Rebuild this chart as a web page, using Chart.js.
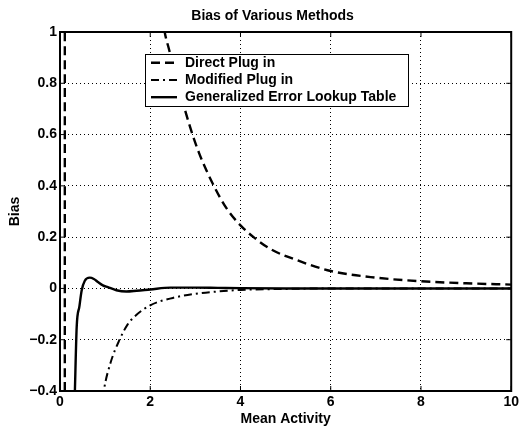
<!DOCTYPE html>
<html>
<head>
<meta charset="utf-8">
<script src="https://cdn.jsdelivr.net/npm/chart.js@4"></script>
<style>
  html, body { margin: 0; padding: 0; background: #fff; }
  #wrap { width: 522px; height: 431px; }
</style>
</head>
<body>
<div id="wrap"><canvas id="biasChart" width="522" height="431"></canvas></div>
<script>
const chartTitle = "Bias of Various Methods";
const xTitle = "Mean Activity";
const yTitle = "Bias";
const seriesNames = ["Direct Plug in", "Modified Plug in", "Generalized Error Lookup Table"];

const xTicks = [0, 2, 4, 6, 8, 10];
const yTicks = [-0.4, -0.2, 0, 0.2, 0.4, 0.6, 0.8, 1];

// Direct Plug in (blows up near 0, then decays)
const directX = [0.02, 0.105, 0.115, 0.5, 1.0, 1.5, 2.0, 2.32, 2.42, 2.6, 2.73, 2.9, 3.1, 3.41, 3.7, 4.0, 4.29, 4.68, 5.27, 6.0, 7.0, 8.0, 9.0, 10.0];
const directY = [-20, -3, 30, 20, 6, 2.6, 1.4, 1.0, 0.93, 0.8, 0.72, 0.62, 0.52, 0.4, 0.31, 0.246, 0.2, 0.152, 0.109, 0.068, 0.042, 0.028, 0.02, 0.015];

// Modified Plug in
const modifiedX = [0.9, 0.97, 1.12, 1.32, 1.5, 1.65, 2.0, 2.5, 3.0, 3.5, 4.0, 5.0, 6.0, 8.0, 10.0];
const modifiedY = [-0.5, -0.4, -0.29, -0.2, -0.14, -0.11, -0.066, -0.037, -0.021, -0.012, -0.006, -0.002, 0, 0, 0];

// Generalized Error Lookup Table
const lookupX = [0.3, 0.33, 0.37, 0.43, 0.48, 0.55, 0.66, 0.75, 0.84, 0.95, 1.06, 1.25, 1.47, 1.7, 2.0, 2.45, 3.0, 3.5, 4.0, 5.0, 6.0, 8.0, 10.0];
const lookupY = [-0.6, -0.4, -0.15, -0.07, -0.008, 0.03, 0.042, 0.037, 0.025, 0.012, 0.005, -0.007, -0.012, -0.009, -0.004, 0.003, 0.003, 0.002, 0.001, 0, 0, 0, 0];

const FONT = '"Liberation Sans", Arial, Helvetica, sans-serif';

const toPoints = (xs, ys) => xs.map((x, i) => ({ x: x, y: ys[i] }));

const matlabFrame = {
  id: "matlabFrame",
  afterDraw(chart) {
    const { ctx, chartArea: a, scales } = chart;
    const xs = scales.x;
    const ys = scales.y;
    ctx.save();
    ctx.strokeStyle = "#000";
    ctx.fillStyle = "#000";
    ctx.setLineDash([]);

    // inward tick marks on all four sides
    ctx.lineWidth = 1;
    ctx.beginPath();
    xTicks.forEach((v) => {
      const px = xs.getPixelForValue(v);
      ctx.moveTo(px, a.top);
      ctx.lineTo(px, a.top + 5);
      ctx.moveTo(px, a.bottom);
      ctx.lineTo(px, a.bottom - 5);
    });
    yTicks.forEach((v) => {
      const py = ys.getPixelForValue(v);
      ctx.moveTo(a.left, py);
      ctx.lineTo(a.left + 5, py);
      ctx.moveTo(a.right, py);
      ctx.lineTo(a.right - 5, py);
    });
    ctx.stroke();

    // axes box
    ctx.lineWidth = 2;
    ctx.strokeRect(a.left, a.top, a.right - a.left, a.bottom - a.top);

    // title
    ctx.font = "bold 14px " + FONT;
    ctx.textAlign = "center";
    ctx.textBaseline = "middle";
    ctx.fillText(chartTitle, (a.left + a.right) / 2 - 13, 16);

    // legend box inside the axes
    const box = { left: 145, top: 54, width: 263, height: 52 };
    ctx.fillStyle = "#fff";
    ctx.fillRect(box.left, box.top, box.width, box.height);
    ctx.lineWidth = 1;
    ctx.strokeRect(box.left + 0.5, box.top + 0.5, box.width, box.height);

    ctx.fillStyle = "#000";
    ctx.textAlign = "left";
    chart.data.datasets.forEach((ds, i) => {
      const rowY = box.top + 8.8 + i * 17.2;
      ctx.lineWidth = ds.borderWidth;
      ctx.setLineDash(ds.borderDash || []);
      ctx.beginPath();
      ctx.moveTo(box.left + 6, rowY);
      ctx.lineTo(box.left + 32, rowY);
      ctx.stroke();
      ctx.setLineDash([]);
      ctx.fillText(ds.label, box.left + 40, rowY);
    });
    ctx.restore();
  },
};

const ctx = document.getElementById("biasChart");
new Chart(ctx, {
  type: "line",
  data: {
    datasets: [
      {
        label: seriesNames[0],
        data: toPoints(directX, directY),
        borderColor: "#000",
        borderWidth: 2.4,
        borderDash: [9, 5],
        cubicInterpolationMode: "monotone",
        pointRadius: 0,
        fill: false,
        clip: 0,
      },
      {
        label: seriesNames[1],
        data: toPoints(modifiedX, modifiedY),
        borderColor: "#000",
        borderWidth: 2,
        borderDash: [8, 4, 2, 4],
        cubicInterpolationMode: "monotone",
        pointRadius: 0,
        fill: false,
        clip: 0,
      },
      {
        label: seriesNames[2],
        data: toPoints(lookupX, lookupY),
        borderColor: "#000",
        borderWidth: 2.4,
        cubicInterpolationMode: "monotone",
        pointRadius: 0,
        fill: false,
        clip: 0,
      },
    ],
  },
  options: {
    responsive: false,
    animation: false,
    devicePixelRatio: 1,
    layout: { padding: { top: 32, right: 7, left: 0, bottom: 0 } },
    plugins: {
      legend: { display: false },
      title: { display: false },
      tooltip: { enabled: false },
    },
    scales: {
      x: {
        type: "linear",
        min: 0,
        max: 10,
        afterFit: (axis) => {
          axis.height = 40;
        },
        afterBuildTicks: (axis) => {
          axis.ticks = xTicks.map((v) => ({ value: v }));
        },
        ticks: {
          color: "#000",
          padding: 3,
          maxRotation: 0,
          font: { family: FONT, size: 14, weight: "bold" },
        },
        grid: { color: "#000", lineWidth: 1, drawTicks: false },
        border: { display: false, dash: [1, 3] },
        title: {
          display: true,
          text: xTitle,
          color: "#000",
          padding: { top: 0, bottom: 3 },
          font: { family: FONT, size: 14, weight: "bold" },
        },
      },
      y: {
        type: "linear",
        min: -0.4,
        max: 1,
        afterFit: (axis) => {
          axis.width = 60;
        },
        afterBuildTicks: (axis) => {
          axis.ticks = yTicks.map((v) => ({ value: v }));
        },
        ticks: {
          color: "#000",
          padding: 3,
          font: { family: FONT, size: 14, weight: "bold" },
          callback: (v) => String(Math.round(v * 10) / 10).replace("-", "\u2212"),
        },
        grid: { color: "#000", lineWidth: 1, drawTicks: false },
        border: { display: false, dash: [1, 3] },
        title: {
          display: true,
          text: yTitle,
          color: "#000",
          padding: { top: 7, bottom: 0 },
          font: { family: FONT, size: 14, weight: "bold" },
        },
      },
    },
  },
  plugins: [matlabFrame],
});
</script>
</body>
</html>
